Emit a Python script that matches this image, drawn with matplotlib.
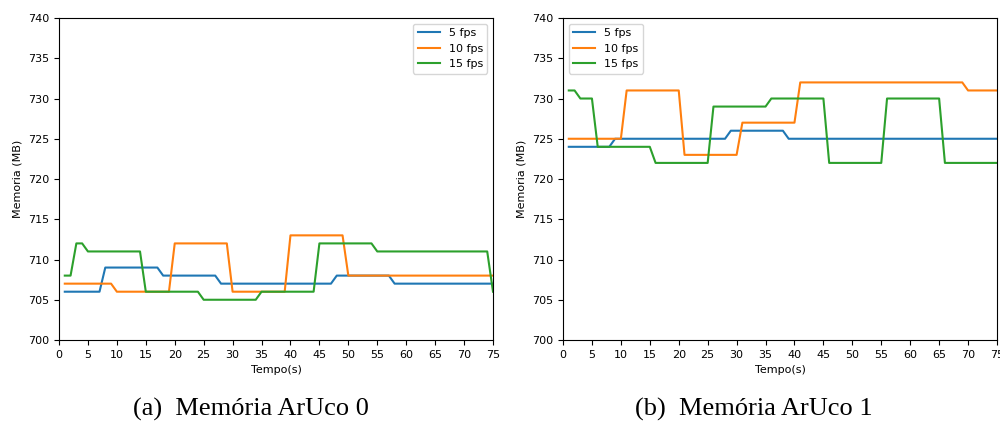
import numpy as np
import matplotlib
matplotlib.use('Agg')
from matplotlib import pyplot as plt

# tempo em segundos (uma amostra por segundo)
tempo = list(range(1, 76))
labels = ['5 fps', '10 fps', '15 fps']

# ArUco 0
aruco0_5fps = [706, 706, 706, 706, 706, 706, 706, 709, 709, 709, 709, 709, 709, 709, 709,
               709, 709, 708, 708, 708, 708, 708, 708, 708, 708, 708, 708, 707, 707, 707,
               707, 707, 707, 707, 707, 707, 707, 707, 707, 707, 707, 707, 707, 707, 707,
               707, 707, 708, 708, 708, 708, 708, 708, 708, 708, 708, 708, 707, 707, 707,
               707, 707, 707, 707, 707, 707, 707, 707, 707, 707, 707, 707, 707, 707, 707]
aruco0_10fps = [707, 707, 707, 707, 707, 707, 707, 707, 707, 706, 706, 706, 706, 706, 706,
                706, 706, 706, 706, 712, 712, 712, 712, 712, 712, 712, 712, 712, 712, 706,
                706, 706, 706, 706, 706, 706, 706, 706, 706, 713, 713, 713, 713, 713, 713,
                713, 713, 713, 713, 708, 708, 708, 708, 708, 708, 708, 708, 708, 708, 708,
                708, 708, 708, 708, 708, 708, 708, 708, 708, 708, 708, 708, 708, 708, 708]
aruco0_15fps = [708, 708, 712, 712, 711, 711, 711, 711, 711, 711, 711, 711, 711, 711, 706,
                706, 706, 706, 706, 706, 706, 706, 706, 706, 705, 705, 705, 705, 705, 705,
                705, 705, 705, 705, 706, 706, 706, 706, 706, 706, 706, 706, 706, 706, 712,
                712, 712, 712, 712, 712, 712, 712, 712, 712, 711, 711, 711, 711, 711, 711,
                711, 711, 711, 711, 711, 711, 711, 711, 711, 711, 711, 711, 711, 711, 706]

# ArUco 1
aruco1_5fps = [724, 724, 724, 724, 724, 724, 724, 724, 725, 725, 725, 725, 725, 725, 725,
               725, 725, 725, 725, 725, 725, 725, 725, 725, 725, 725, 725, 725, 726, 726,
               726, 726, 726, 726, 726, 726, 726, 726, 725, 725, 725, 725, 725, 725, 725,
               725, 725, 725, 725, 725, 725, 725, 725, 725, 725, 725, 725, 725, 725, 725,
               725, 725, 725, 725, 725, 725, 725, 725, 725, 725, 725, 725, 725, 725, 725]
aruco1_10fps = [725, 725, 725, 725, 725, 725, 725, 725, 725, 725, 731, 731, 731, 731, 731,
                731, 731, 731, 731, 731, 723, 723, 723, 723, 723, 723, 723, 723, 723, 723,
                727, 727, 727, 727, 727, 727, 727, 727, 727, 727, 732, 732, 732, 732, 732,
                732, 732, 732, 732, 732, 732, 732, 732, 732, 732, 732, 732, 732, 732, 732,
                732, 732, 732, 732, 732, 732, 732, 732, 732, 731, 731, 731, 731, 731, 731]
aruco1_15fps = [731, 731, 730, 730, 730, 724, 724, 724, 724, 724, 724, 724, 724, 724, 724,
                722, 722, 722, 722, 722, 722, 722, 722, 722, 722, 729, 729, 729, 729, 729,
                729, 729, 729, 729, 729, 730, 730, 730, 730, 730, 730, 730, 730, 730, 730,
                722, 722, 722, 722, 722, 722, 722, 722, 722, 722, 730, 730, 730, 730, 730,
                730, 730, 730, 730, 730, 722, 722, 722, 722, 722, 722, 722, 722, 722, 722]

captions = ['(a)  Memória ArUco 0', '(b)  Memória ArUco 1']

fig = plt.figure(figsize=(10, 4.21), dpi=100)
ax0 = fig.add_axes([0.059, 0.1924, 0.434, 0.7648])
ax1 = fig.add_axes([0.563, 0.1924, 0.434, 0.7648])

series = [(ax0, [aruco0_5fps, aruco0_10fps, aruco0_15fps], 'upper right'),
          (ax1, [aruco1_5fps, aruco1_10fps, aruco1_15fps], 'upper left')]

for ax, data, loc in series:
    for values, lab in zip(data, labels):
        ax.plot(tempo, values, label=lab, linewidth=1.5)
    ax.set_xlim(0, 75)
    ax.set_ylim(700, 740)
    ax.set_xticks(np.arange(0, 76, 5))
    ax.set_yticks(np.arange(700, 741, 5))
    ax.tick_params(labelsize=8)
    ax.set_xlabel('Tempo(s)', fontsize=8)
    ax.set_ylabel('Memoria (MB)', fontsize=8)
    ax.legend(loc=loc, fontsize=8)

# legendas das subfiguras, em fonte serifada
serif = ['Liberation Serif', 'DejaVu Serif']
fig.text(0.251, 0.012, captions[0], ha='center', va='baseline', fontsize=19, family=serif)
fig.text(0.754, 0.012, captions[1], ha='center', va='baseline', fontsize=19, family=serif)

fig.savefig('out.png', dpi=100)
